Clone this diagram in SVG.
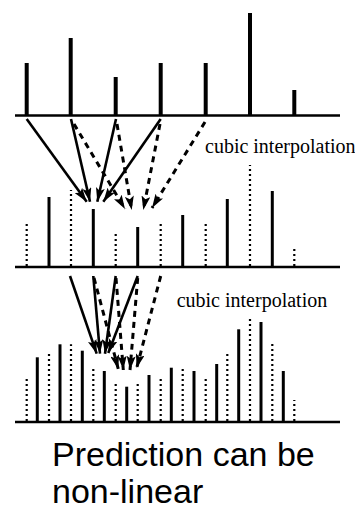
<svg xmlns="http://www.w3.org/2000/svg" width="355" height="509" viewBox="0 0 355 509">
<style>
.axis{stroke:#000;stroke-width:2.5}
.bt{stroke:#000;stroke-width:4}
.bs{stroke:#000;stroke-width:3}
.bd{stroke:#000;stroke-width:2.2;stroke-dasharray:2,3}
.ar{stroke:#000;stroke-width:2.6;fill:none;marker-end:url(#ah)}
.ad{stroke:#000;stroke-width:3;stroke-dasharray:6,5;fill:none;marker-end:url(#ah)}
.lab{font-family:"Liberation Serif","Times New Roman",serif;font-size:20px;fill:#000}
.cap{font-family:"Liberation Sans",Arial,sans-serif;font-size:34px;fill:#000}
</style>
<defs>
<marker id="ah" viewBox="0 0 14 9" markerWidth="14" markerHeight="9" refX="14" refY="4.5" orient="auto" markerUnits="userSpaceOnUse">
<path d="M0,0 L14,4.5 L0,9 L3,4.5 z" fill="#000"/>
</marker>
</defs>
<rect width="355" height="509" fill="#fff"/>
<g id="row-top">
<line class="axis" x1="15" y1="115.5" x2="340" y2="115.5"/>
<line class="bt" x1="26.7" y1="115" x2="26.7" y2="63"/>
<line class="bt" x1="70.7" y1="115" x2="70.7" y2="38"/>
<line class="bt" x1="115.7" y1="115" x2="115.7" y2="77"/>
<line class="bt" x1="160.7" y1="115" x2="160.7" y2="63"/>
<line class="bt" x1="205.7" y1="115" x2="205.7" y2="63"/>
<line class="bt" x1="250" y1="115" x2="250" y2="13"/>
<line class="bt" x1="294.3" y1="115" x2="294.3" y2="90"/>
</g>
<g id="row-middle">
<line class="axis" x1="15" y1="267" x2="340" y2="267"/>
<line class="bd" x1="26.7" y1="266" x2="26.7" y2="223"/>
<line class="bd" x1="71" y1="266" x2="71" y2="190"/>
<line class="bd" x1="115.7" y1="266" x2="115.7" y2="232"/>
<line class="bd" x1="160.7" y1="266" x2="160.7" y2="223"/>
<line class="bd" x1="205.7" y1="266" x2="205.7" y2="223"/>
<line class="bd" x1="250" y1="266" x2="250" y2="165"/>
<line class="bd" x1="294.3" y1="266" x2="294.3" y2="247"/>
<line class="bs" x1="49" y1="266" x2="49" y2="197"/>
<line class="bs" x1="93.3" y1="266" x2="93.3" y2="209"/>
<line class="bs" x1="137.7" y1="266" x2="137.7" y2="227"/>
<line class="bs" x1="182.7" y1="266" x2="182.7" y2="215"/>
<line class="bs" x1="227.3" y1="266" x2="227.3" y2="199"/>
<line class="bs" x1="272.3" y1="266" x2="272.3" y2="191"/>
</g>
<g id="row-bottom">
<line class="axis" x1="15" y1="422" x2="340" y2="422"/>
<line class="bd" x1="26.7" y1="421" x2="26.7" y2="376.7"/>
<line class="bd" x1="49" y1="421" x2="49" y2="351.7"/>
<line class="bd" x1="71" y1="421" x2="71" y2="344.3"/>
<line class="bd" x1="93.3" y1="421" x2="93.3" y2="368.3"/>
<line class="bd" x1="115.7" y1="421" x2="115.7" y2="384"/>
<line class="bd" x1="137.7" y1="421" x2="137.7" y2="384"/>
<line class="bd" x1="160.7" y1="421" x2="160.7" y2="376"/>
<line class="bd" x1="182.7" y1="421" x2="182.7" y2="368.3"/>
<line class="bd" x1="205.7" y1="421" x2="205.7" y2="376"/>
<line class="bd" x1="227.3" y1="421" x2="227.3" y2="352.7"/>
<line class="bd" x1="250" y1="421" x2="250" y2="318.3"/>
<line class="bd" x1="272.3" y1="421" x2="272.3" y2="343.3"/>
<line class="bd" x1="294.3" y1="421" x2="294.3" y2="400"/>
<line class="bs" x1="37.3" y1="421" x2="37.3" y2="357.3"/>
<line class="bs" x1="60" y1="421" x2="60" y2="344.3"/>
<line class="bs" x1="82.3" y1="421" x2="82.3" y2="350.7"/>
<line class="bs" x1="104.3" y1="421" x2="104.3" y2="371"/>
<line class="bs" x1="126.7" y1="421" x2="126.7" y2="386.7"/>
<line class="bs" x1="149" y1="421" x2="149" y2="375"/>
<line class="bs" x1="171.3" y1="421" x2="171.3" y2="367.7"/>
<line class="bs" x1="194" y1="421" x2="194" y2="371"/>
<line class="bs" x1="216.7" y1="421" x2="216.7" y2="364"/>
<line class="bs" x1="238.7" y1="421" x2="238.7" y2="329.3"/>
<line class="bs" x1="261" y1="421" x2="261" y2="322"/>
<line class="bs" x1="283.3" y1="421" x2="283.3" y2="371"/>
</g>
<g id="connectors">
<line class="ar" x1="26.7" y1="119" x2="86.7" y2="201.7"/>
<line class="ar" x1="71" y1="119" x2="90" y2="201.7"/>
<line class="ar" x1="116" y1="119" x2="97.3" y2="201.7"/>
<line class="ar" x1="160.7" y1="119" x2="103.3" y2="201.7"/>
<line class="ad" x1="74" y1="124" x2="125" y2="209"/>
<line class="ad" x1="117" y1="124" x2="131.7" y2="210"/>
<line class="ad" x1="160" y1="124" x2="143.3" y2="210"/>
<line class="ad" x1="205" y1="122" x2="152" y2="208"/>
<line class="ar" x1="70" y1="276" x2="96.7" y2="353.7"/>
<line class="ar" x1="93.3" y1="276" x2="100" y2="353.7"/>
<line class="ar" x1="115.7" y1="276" x2="105" y2="353.7"/>
<line class="ar" x1="137.7" y1="276" x2="108.3" y2="353"/>
<line class="ad" x1="94" y1="278" x2="118.3" y2="369"/>
<line class="ad" x1="116" y1="278" x2="123.3" y2="370"/>
<line class="ad" x1="137.7" y1="278" x2="130" y2="370"/>
<line class="ad" x1="160.7" y1="276" x2="136.7" y2="368"/>
</g>
<g id="labels">
<text class="lab" x="205" y="153.3">cubic interpolation</text>
<text class="lab" x="176.7" y="307">cubic interpolation</text>
<text class="cap" x="52" y="466">Prediction can be</text>
<text class="cap" x="52" y="503">non-linear</text>
</g>
</svg>
